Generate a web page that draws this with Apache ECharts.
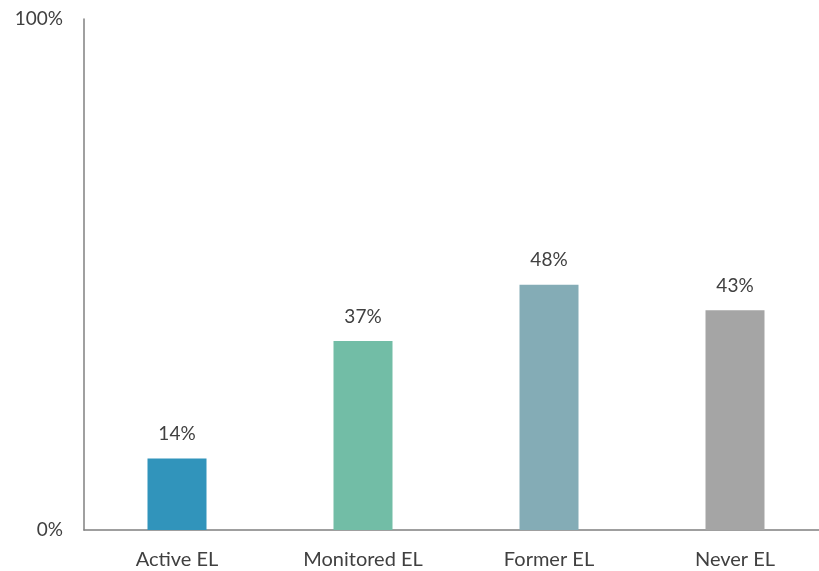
<!DOCTYPE html>
<html>
<head>
<meta charset="utf-8">
<script src="https://cdn.jsdelivr.net/npm/echarts@6/dist/echarts.min.js"></script>
<style>
  html, body { margin: 0; padding: 0; background: #ffffff; overflow: hidden; }
  #chart { width: 828px; height: 571px; }
</style>
</head>
<body>
<div id="chart"></div>
<script>
// Share of respondents by EL status
const categories = ['Active EL', 'Monitored EL', 'Former EL', 'Never EL'];
const values = [14, 37, 48, 43];
const barColors = ['#3194BB', '#72BDA6', '#84ACB6', '#A5A5A5'];
const yTicks = [0, 100];

const fontFamily = 'Lato, "Open Sans", sans-serif';
const textColor = '#404040';

const chart = echarts.init(document.getElementById('chart'), null, { renderer: 'canvas' });

chart.setOption({
  animation: false,
  grid: { left: 84, top: 19, right: 0, height: 511, containLabel: false },
  xAxis: {
    type: 'category',
    data: categories,
    axisLine: { show: true, lineStyle: { color: '#808080', width: 1.5 } },
    axisTick: { show: false },
    axisLabel: { color: textColor, fontSize: 20, fontFamily: fontFamily, margin: 20 }
  },
  yAxis: {
    type: 'value',
    min: yTicks[0],
    max: yTicks[yTicks.length - 1],
    interval: 100,
    axisLine: { show: true, lineStyle: { color: '#808080', width: 1.5 } },
    axisTick: { show: false },
    splitLine: { show: false },
    axisLabel: {
      color: textColor, fontSize: 19, fontFamily: fontFamily, margin: 21,
      formatter: v => v + '%'
    }
  },
  series: [{
    type: 'bar',
    barWidth: 59,
    data: values.map((v, i) => ({ value: v, itemStyle: { color: barColors[i] } })),
    label: {
      show: true,
      position: 'top',
      distance: 15,
      color: textColor,
      fontSize: 19,
      fontFamily: fontFamily,
      formatter: p => p.value + '%'
    }
  }]
});
</script>
</body>
</html>
